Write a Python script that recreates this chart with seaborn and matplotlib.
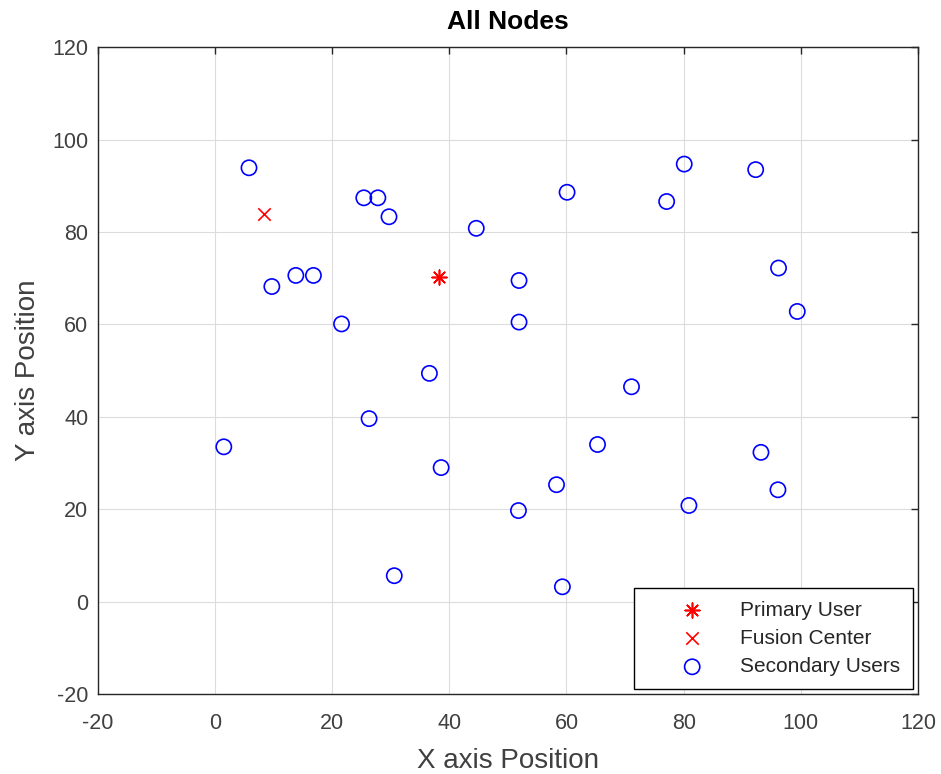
import seaborn as sns
import numpy as np
import matplotlib.pyplot as plt

# node positions
pu_x = [38.2]
pu_y = [70.2]

fc_x = [8.4]
fc_y = [84.0]

su_x = [5.8, 25.4, 27.8, 29.7, 44.6, 13.8, 16.8, 9.7, 21.6, 60.1,
        80.1, 77.1, 92.3, 96.2, 99.4, 51.9, 51.9, 36.6, 71.1, 26.3,
        1.5, 38.6, 65.3, 58.3, 51.8, 93.2, 96.1, 80.9, 30.6, 59.3]
su_y = [93.9, 87.4, 87.4, 83.3, 80.8, 70.6, 70.6, 68.2, 60.1, 88.6,
        94.7, 86.6, 93.5, 72.2, 62.8, 69.5, 60.5, 49.4, 46.5, 39.6,
        33.5, 29.0, 34.0, 25.3, 19.7, 32.3, 24.2, 20.8, 5.6, 3.2]

ticks = np.arange(-20, 121, 20)

sns.set_style("white")
plt.rcParams['font.family'] = ['Liberation Sans', 'DejaVu Sans']
plt.rcParams['axes.unicode_minus'] = False

fig = plt.figure(figsize=(9.41, 7.74), dpi=100)
ax = fig.add_axes([0.104, 0.1034, 0.8715, 0.8356])

sns.scatterplot(x=pu_x, y=pu_y, marker=(8, 2, 0), color='red', s=110,
                linewidth=1.2, label='Primary User', ax=ax)
sns.scatterplot(x=fc_x, y=fc_y, marker='x', color='red', s=80,
                linewidth=1.2, label='Fusion Center', ax=ax)
sns.scatterplot(x=su_x, y=su_y, marker='o', color='blue', s=120,
                linewidth=1.2, label='Secondary Users', ax=ax)
ax.collections[-1].set_facecolor('none')
ax.collections[-1].set_edgecolor('blue')

ax.set_xlim(-20, 120)
ax.set_ylim(-20, 120)
ax.set_xticks(ticks)
ax.set_yticks(ticks)
ax.grid(True, color='#dcdcdc', linewidth=0.8)
ax.set_axisbelow(True)
ax.tick_params(direction='in', length=5, width=1, top=True, right=True,
               labelsize=15.5, colors='#262626', labelcolor='#404040')
ax.tick_params(axis='x', pad=14)
ax.tick_params(axis='y', pad=7)
for sp in ax.spines.values():
    sp.set_color('#262626')
    sp.set_linewidth(1.0)

ax.set_title('All Nodes', fontsize=19, fontweight='bold', color='black', pad=13)
ax.set_xlabel('X axis Position', fontsize=20, color='#404040', labelpad=10)
ax.set_ylabel('Y axis Position', fontsize=20, color='#404040', labelpad=8)

leg = ax.legend(loc='lower right', fontsize=15, fancybox=False,
                framealpha=1, edgecolor='black', borderaxespad=0.25,
                handletextpad=0.1, handlelength=4.4, borderpad=0.6,
                labelspacing=0.45)
leg.get_frame().set_linewidth(1.0)
for h in leg.legend_handles[-1:]:
    h.set_facecolor('none')

fig.savefig('out.png', dpi=100)
